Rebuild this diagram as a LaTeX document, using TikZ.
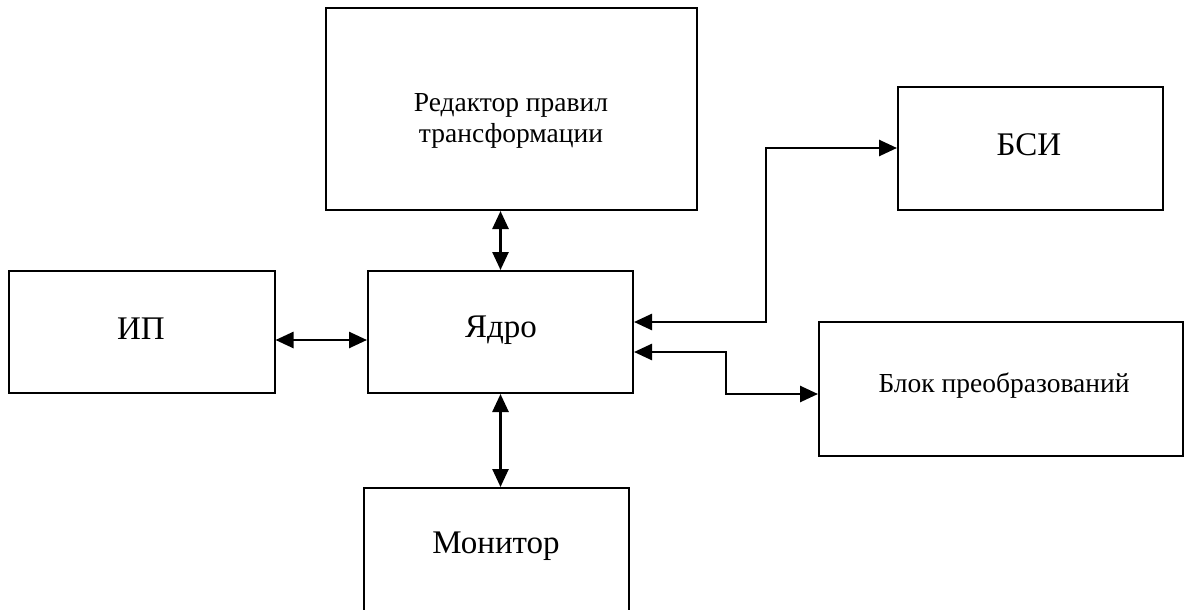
\documentclass[tikz,border=0pt]{standalone}
\usepackage{fontspec}
\setmainfont{Liberation Serif}
\usetikzlibrary{arrows.meta}
\tikzset{
  blk/.style={draw=black, line width=2pt, rectangle, inner sep=0pt},
  lbl/.style={inner sep=0pt, align=center, font=\fontsize{33}{38}\selectfont},
  small/.style={inner sep=0pt, align=center, font=\fontsize{27.5}{31}\selectfont},
  link/.style={line width=2.6pt, {Triangle[length=18pt,width=16pt]}-{Triangle[length=18pt,width=16pt]}},
}
\begin{document}
\begin{tikzpicture}[x=1pt,y=-1pt]
\useasboundingbox (0,0) rectangle (1196,610);
\clip (0,0) rectangle (1196,610);
\fill[white] (0,0) rectangle (1196,610);
% boxes
\node[blk, minimum width=371pt, minimum height=202pt] (editor) at (511.5,109) {};
\node[blk, minimum width=265pt, minimum height=123pt] (bsi) at (1030.5,148) {};
\node[blk, minimum width=266pt, minimum height=122pt] (ip) at (141.5,332) {};
\node[blk, minimum width=265pt, minimum height=122pt] (core) at (500.5,332) {};
\node[blk, minimum width=364pt, minimum height=134pt] (conv) at (1001,389) {};
\node[blk, minimum width=265pt, minimum height=140pt] (mon) at (496.5,558) {};
% labels
\node[small] (editortxt) at (511,121) {Редактор правил\\трансформации};
\node[lbl] (bsitxt) at (1029,145) {БСИ};
\node[lbl] (iptxt) at (141,329) {ИП};
\node[lbl] (coretxt) at (501,330) {Ядро};
\node[small] (convtxt) at (1004,386) {Блок преобразований};
\node[lbl] (montxt) at (496,546) {Монитор};
% connectors
\draw[link] (core.north) -- (core.north |- editor.south);
\draw[link] ([yshift=-8pt]ip.east) -- ([yshift=-8pt]core.west);
\draw[link] (core.south) -- (core.south |- mon.north);
\coordinate (bsiA) at (766,322);
\coordinate (convA) at (726,352);
\draw[link] ([yshift=10pt]core.east) -- (bsiA) |- (bsi.west);
\draw[link] ([yshift=-20pt]core.east) -- (convA) |- ([yshift=-5pt]conv.west);
\end{tikzpicture}
\end{document}
